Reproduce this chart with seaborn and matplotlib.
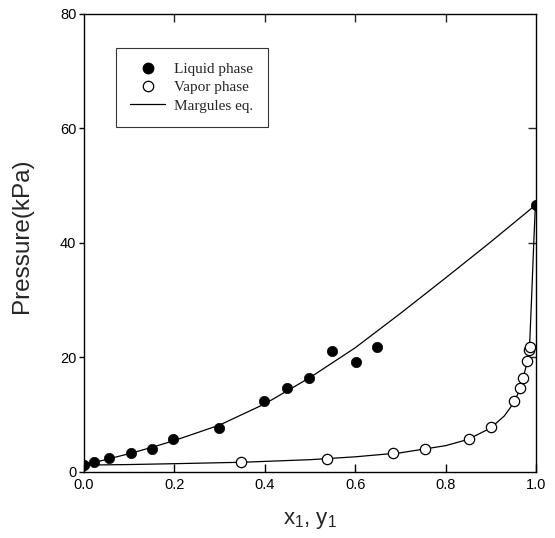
import matplotlib
matplotlib.use("Agg")
import matplotlib.pyplot as plt
from matplotlib.lines import Line2D
import seaborn as sns

# Measured liquid-phase (bubble) points: x1, P / kPa
x_liq = [0.0, 0.022, 0.055, 0.103, 0.150, 0.197, 0.299, 0.399, 0.448, 0.498,
         0.548, 0.601, 0.649, 1.0]
p_liq = [1.2, 1.8, 2.4, 3.3, 4.0, 5.8, 7.7, 12.4, 14.6, 16.5,
         21.2, 19.2, 21.8, 46.7]

# Measured vapor-phase (dew) points: y1, P / kPa
y_vap = [0.347, 0.538, 0.684, 0.755, 0.851, 0.900, 0.952, 0.965, 0.971,
         0.979, 0.984, 0.987]
p_vap = [1.7, 2.3, 3.3, 4.0, 5.8, 7.8, 12.4, 14.6, 16.5,
         19.3, 21.3, 21.8]

# Margules correlation, bubble-point curve P(x1)
x_fit = [0.0, 0.05, 0.1, 0.15, 0.2, 0.3, 0.4, 0.5, 0.6, 0.7, 0.8, 0.9, 1.0]
p_fit_x = [1.2, 2.2, 3.2, 4.3, 5.5, 8.2, 11.9, 16.5, 21.7, 27.7, 33.9, 40.2, 46.7]

# Margules correlation, dew-point curve P(y1)
y_fit = [0.0, 0.1, 0.2, 0.35, 0.5, 0.6, 0.7, 0.8, 0.85, 0.9, 0.93, 0.95,
         0.965, 0.975, 0.985, 0.990, 0.995, 0.998, 1.0]
p_fit_y = [1.2, 1.3, 1.45, 1.7, 2.15, 2.65, 3.35, 4.6, 5.7, 7.7, 9.8, 12.0,
           14.5, 17.5, 20.6, 30.0, 40.0, 45.5, 46.7]

sns.set_style("ticks")
plt.rcParams["font.family"] = ["Liberation Sans", "DejaVu Sans"]
plt.rcParams["mathtext.fontset"] = "custom"
plt.rcParams["mathtext.rm"] = "Liberation Sans"
plt.rcParams["mathtext.it"] = "Liberation Sans"

fig = plt.figure(figsize=(5.55, 5.38), dpi=100)
ax = fig.add_axes([0.1514, 0.1227, 0.8144, 0.8513])

lw = 0.9
sns.lineplot(x=x_fit, y=p_fit_x, ax=ax, color="black", lw=lw, sort=False,
             estimator=None)
sns.lineplot(x=y_fit, y=p_fit_y, ax=ax, color="black", lw=lw, sort=False,
             estimator=None)
sns.scatterplot(x=y_vap, y=p_vap, ax=ax, marker="o", s=55,
                facecolor="white", edgecolor="black", linewidth=0.9, zorder=3)
sns.scatterplot(x=x_liq, y=p_liq, ax=ax, marker="o", s=55,
                color="black", edgecolor="black", linewidth=0.5, zorder=4)

ax.set_xlim(0, 1.0)
ax.set_ylim(0, 80)
ax.set_xticks([0.0, 0.2, 0.4, 0.6, 0.8, 1.0])
ax.set_xticklabels(["0.0", "0.2", "0.4", "0.6", "0.8", "1.0"])
ax.set_yticks([0, 20, 40, 60, 80])

for s in ax.spines.values():
    s.set_visible(True)
    s.set_color("black")
    s.set_linewidth(1.0)

ax.tick_params(axis="x", direction="in", length=6, width=1, labelsize=10.5,
               pad=4, colors="black")
ax.tick_params(axis="y", direction="out", length=3.5, width=1, labelsize=10.5,
               pad=2, colors="black")

# inward ticks on the top and right frame edges
top = ax.secondary_xaxis("top")
top.set_xticks([0.2, 0.4, 0.6, 0.8])
top.tick_params(direction="in", length=6, width=1, labeltop=False)
top.spines["top"].set_visible(False)
right = ax.secondary_yaxis("right")
right.set_yticks([20, 40, 60])
right.tick_params(direction="in", length=6, width=1, labelright=False)
right.spines["right"].set_visible(False)

ax.set_xlabel(r"x$_1$, y$_1$", fontsize=16, labelpad=13)
ax.set_ylabel("Pressure(kPa)", fontsize=17.5)
ax.yaxis.set_label_coords(-0.113, 0.516)

handles = [
    Line2D([], [], ls="none", marker="o", ms=7.5, mfc="black", mec="black"),
    Line2D([], [], ls="none", marker="o", ms=7.5, mfc="white", mec="black",
           mew=0.9),
    Line2D([], [], color="black", lw=lw),
]
leg = ax.legend(handles, ["Liquid phase", "Vapor phase", "Margules eq."],
                loc="upper left", bbox_to_anchor=(0.07, 0.926),
                prop={"family": "Liberation Serif", "size": 11},
                frameon=True, fancybox=False, edgecolor="black",
                handlelength=2.3, handletextpad=0.6, labelspacing=0.3,
                borderpad=0.95, borderaxespad=0)
leg.get_frame().set_linewidth(0.8)

fig.savefig("out.png", dpi=100)
